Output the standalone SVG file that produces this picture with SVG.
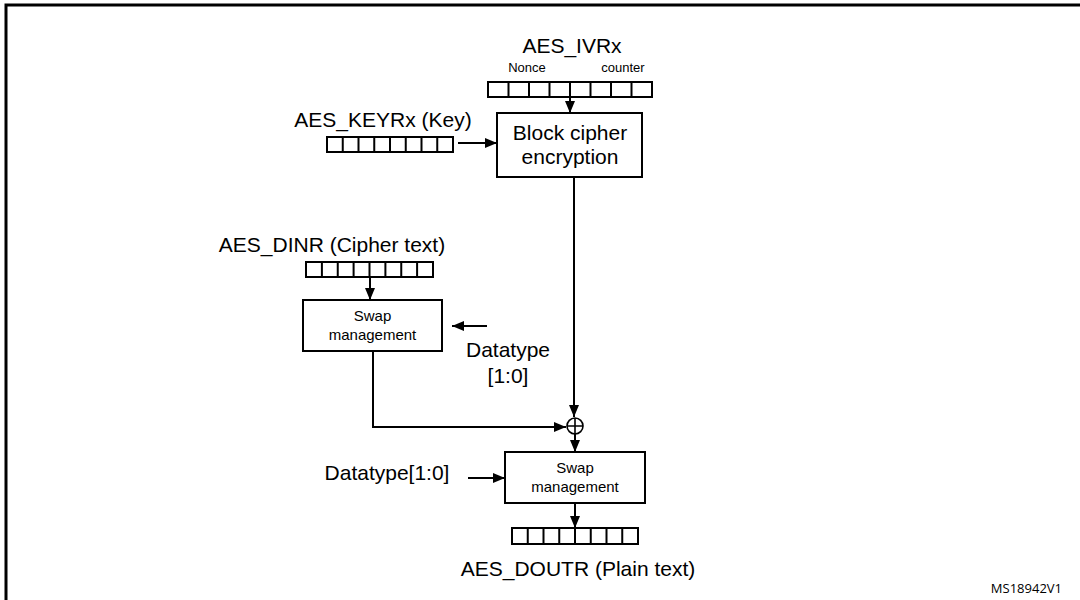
<svg xmlns="http://www.w3.org/2000/svg" width="1080" height="600" viewBox="0 0 1080 600">
<style>
text{font-family:"Liberation Sans",Arial,sans-serif;fill:#000}
.l{font-size:21px}
.s{font-size:15px}
.n{font-size:13px}
.box{fill:#fff;stroke:#000;stroke-width:2}
.reg{fill:#fff;stroke:#000;stroke-width:2}
.c{fill:none;stroke:#000;stroke-width:2}
</style>
<defs>
<marker id="ah" viewBox="0 0 12 10" refX="12" refY="5" markerWidth="12" markerHeight="10" markerUnits="userSpaceOnUse" orient="auto">
<path d="M0,0 L12,5 L0,10 z" fill="#000"/>
</marker>
</defs>
<rect width="1080" height="600" fill="#fff"/>
<path d="M6,600 V5 H1080" fill="none" stroke="#000" stroke-width="3"/>

<g id="iv">
<text class="l" x="572" y="53" text-anchor="middle">AES_IVRx</text>
<text class="n" x="527" y="72" text-anchor="middle">Nonce</text>
<text class="n" x="623" y="72" text-anchor="middle">counter</text>
<rect class="reg" x="488" y="82" width="164" height="15"/>
<path class="reg" d="M508.5,82v15M529,82v15M549.5,82v15M570,82v15M590.5,82v15M611,82v15M631.5,82v15"/>
</g>

<g id="key">
<text class="l" x="383" y="127" text-anchor="middle">AES_KEYRx (Key)</text>
<rect class="reg" x="327" y="137" width="126" height="15"/>
<path class="reg" d="M342.75,137v15M358.5,137v15M374.25,137v15M390,137v15M405.75,137v15M421.5,137v15M437.25,137v15"/>
</g>

<g id="cipher">
<rect class="box" x="497" y="113" width="145" height="64"/>
<text class="l" x="570" y="140" text-anchor="middle">Block cipher</text>
<text class="l" x="570" y="164" text-anchor="middle">encryption</text>
</g>

<g id="din">
<text class="l" x="332" y="252" text-anchor="middle">AES_DINR (Cipher text)</text>
<rect class="reg" x="306" y="262" width="127" height="15"/>
<path class="reg" d="M321.9,262v15M337.75,262v15M353.6,262v15M369.5,262v15M385.4,262v15M401.25,262v15M417.1,262v15"/>
</g>

<g id="swap1">
<rect class="box" x="303" y="300" width="139" height="51"/>
<text class="s" x="372.5" y="321" text-anchor="middle">Swap</text>
<text class="s" x="372.5" y="340" text-anchor="middle">management</text>
</g>

<g id="dt1">
<text class="l" x="508" y="357" text-anchor="middle">Datatype</text>
<text class="l" x="508" y="383" text-anchor="middle">[1:0]</text>
</g>

<g id="xor">
<circle cx="575" cy="426" r="8" fill="#fff" stroke="#000" stroke-width="1.6"/>
<path d="M567,426H583M575,418V434" stroke="#000" stroke-width="1.6"/>
</g>

<g id="dt2">
<text class="l" x="387" y="480" text-anchor="middle">Datatype[1:0]</text>
</g>

<g id="swap2">
<rect class="box" x="505" y="452" width="140" height="51"/>
<text class="s" x="575" y="473" text-anchor="middle">Swap</text>
<text class="s" x="575" y="492" text-anchor="middle">management</text>
</g>

<g id="dout">
<rect class="reg" x="512" y="528" width="126" height="16"/>
<path class="reg" d="M527.75,528v16M543.5,528v16M559.25,528v16M575,528v16M590.75,528v16M606.5,528v16M622.25,528v16"/>
<text class="l" x="578" y="576" text-anchor="middle">AES_DOUTR (Plain text)</text>
</g>

<text x="1062" y="593" text-anchor="end" style="font-family:'Open Sans','Liberation Sans',sans-serif;font-size:13px">MS18942V1</text>

<g id="connectors">
<path class="c" d="M570,97V113" marker-end="url(#ah)"/>
<path class="c" d="M458,143H497" marker-end="url(#ah)"/>
<path class="c" d="M574,177V417" marker-end="url(#ah)"/>
<path class="c" d="M370,277V300" marker-end="url(#ah)"/>
<path class="c" d="M487,326H452" marker-end="url(#ah)"/>
<path class="c" d="M373,351V427H566" marker-end="url(#ah)"/>
<path class="c" d="M575,434V452" marker-end="url(#ah)"/>
<path class="c" d="M468,478H505" marker-end="url(#ah)"/>
<path class="c" d="M575,503V528" marker-end="url(#ah)"/>
</g>
</svg>
